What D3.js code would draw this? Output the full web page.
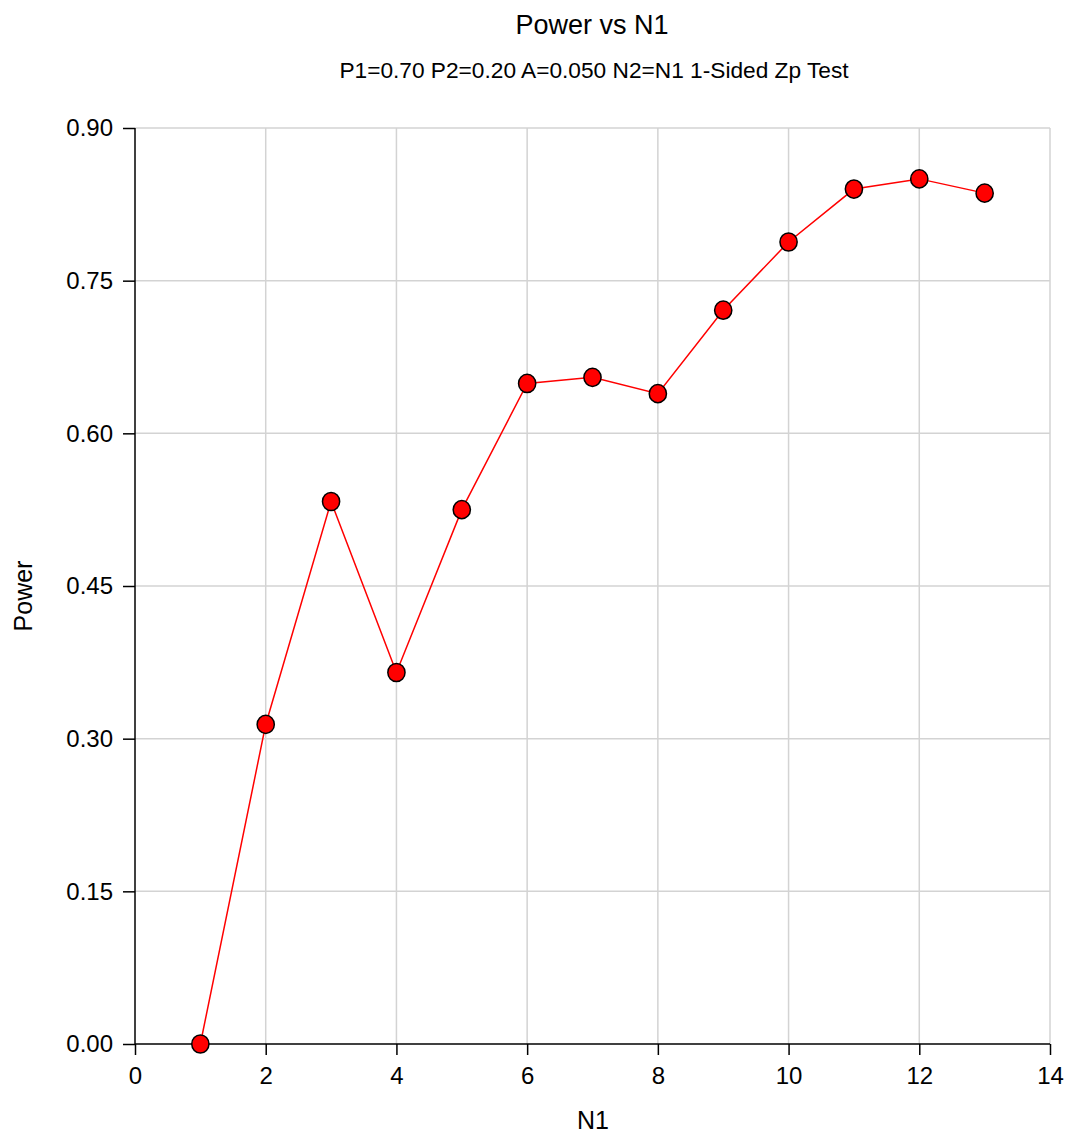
<!DOCTYPE html>
<html lang="en">
<head>
  <meta charset="UTF-8">
  <title>Power vs N1</title>
  <script src="https://d3js.org/d3.v7.min.js"></script>
  <style>
    body { margin: 0; background: white; }
    svg { font-family: "Liberation Sans", Arial, sans-serif; }
  </style>
</head>
<body>
  <div id="chart"></div>
  <script>
    // data
    const n1 = [1, 2, 3, 4, 5, 6, 7, 8, 9, 10, 11, 12, 13];
    const power = [0.000, 0.314, 0.533, 0.365, 0.525, 0.649, 0.655, 0.639, 0.721, 0.788, 0.840, 0.850, 0.836];
    const xTicks = [0, 2, 4, 6, 8, 10, 12, 14];
    const yTicks = [0.00, 0.15, 0.30, 0.45, 0.60, 0.75, 0.90];

    const width = 1067, height = 1135;
    const plotL = 135, plotR = 1050, plotT = 128, plotB = 1044;

    const svg = d3.select("#chart").append("svg")
      .attr("width", width)
      .attr("height", height);

    const x = d3.scaleLinear().domain([0, 14]).range([plotL, plotR]);
    const y = d3.scaleLinear().domain([0, 0.9]).range([plotB, plotT]);

    // grid
    svg.append("g").selectAll("line")
      .data(xTicks.filter(d => d > 0))
      .enter().append("line")
      .attr("x1", d => x(d)).attr("x2", d => x(d))
      .attr("y1", plotT).attr("y2", plotB)
      .attr("stroke", "#d3d3d3").attr("stroke-width", 1.5);

    svg.append("g").selectAll("line")
      .data(yTicks.filter(d => d > 0))
      .enter().append("line")
      .attr("x1", plotL).attr("x2", plotR)
      .attr("y1", d => y(d)).attr("y2", d => y(d))
      .attr("stroke", "#d3d3d3").attr("stroke-width", 1.5);

    // axes
    const xAxis = svg.append("g")
      .attr("transform", `translate(0,${plotB})`)
      .call(d3.axisBottom(x).tickValues(xTicks).tickSize(11).tickPadding(12));
    xAxis.select(".domain").attr("stroke", "#000").attr("stroke-width", 1.5)
      .attr("d", `M${plotL},0H${plotR}`);
    xAxis.selectAll(".tick line").attr("stroke-width", 1.5);
    xAxis.selectAll("text").attr("font-size", 24).attr("fill", "#000");

    const yAxis = svg.append("g")
      .attr("transform", `translate(${plotL},0)`)
      .call(d3.axisLeft(y).tickValues(yTicks).tickFormat(d3.format(".2f")).tickSize(12).tickPadding(10));
    yAxis.select(".domain").attr("stroke", "#000").attr("stroke-width", 1.5)
      .attr("d", `M0,${plotT}V${plotB}`);
    yAxis.selectAll(".tick line").attr("stroke-width", 1.5);
    yAxis.selectAll("text").attr("font-size", 24).attr("fill", "#000");

    // line and markers
    const pts = n1.map((d, i) => ({ n: d, p: power[i] }));
    svg.append("path")
      .datum(pts)
      .attr("fill", "none")
      .attr("stroke", "#ff0000")
      .attr("stroke-width", 1.5)
      .attr("d", d3.line().x(d => x(d.n)).y(d => y(d.p)));

    svg.append("g").selectAll("ellipse")
      .data(pts)
      .enter().append("ellipse")
      .attr("cx", d => x(d.n)).attr("cy", d => y(d.p))
      .attr("rx", 8.6).attr("ry", 9.1)
      .attr("fill", "#ff0000").attr("stroke", "#000").attr("stroke-width", 1.5);

    // titles
    svg.append("text").attr("x", 592).attr("y", 34)
      .attr("text-anchor", "middle").attr("font-size", 27).text("Power vs N1");
    svg.append("text").attr("x", 594).attr("y", 78)
      .attr("text-anchor", "middle").attr("font-size", 22.7)
      .text("P1=0.70 P2=0.20 A=0.050 N2=N1 1-Sided Zp Test");
    svg.append("text").attr("x", 593).attr("y", 1129)
      .attr("text-anchor", "middle").attr("font-size", 25).text("N1");
    svg.append("text")
      .attr("transform", `translate(32,${(plotT + plotB) / 2 + 10}) rotate(-90)`)
      .attr("text-anchor", "middle").attr("font-size", 25).text("Power");
  </script>
</body>
</html>
